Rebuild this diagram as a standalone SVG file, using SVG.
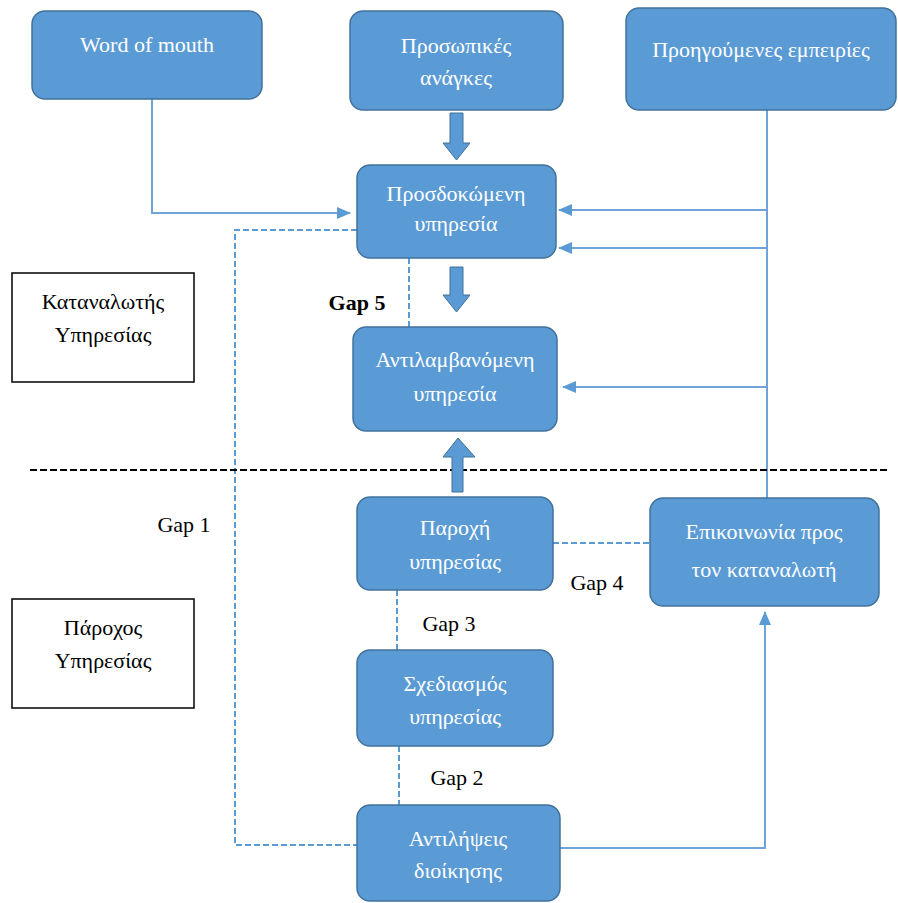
<svg xmlns="http://www.w3.org/2000/svg" width="898" height="903" viewBox="0 0 898 903">
<defs>
<style>
.box{fill:#5B9BD5;stroke:#41719C;stroke-width:1.5}
.lbl{fill:#FFFFFF;font-family:Liberation Serif, Times New Roman, serif;font-size:22px;text-anchor:middle}
.blk{fill:#000000;font-size:22px;text-anchor:middle}
.side{fill:#FFFFFF;stroke:#000000;stroke-width:1.5}
.ln{fill:none;stroke:#6FA3DA;stroke-width:2}
.dash{fill:none;stroke:#5B9BD5;stroke-width:2;stroke-dasharray:6 3}
.big{fill:#5B9BD5;stroke:#41719C;stroke-width:1}
</style>
<marker id="ah2" markerWidth="14" markerHeight="14" refX="13" refY="7" orient="auto" markerUnits="userSpaceOnUse" viewBox="0 0 14 14">
<path d="M0,1 L14,7 L0,13 z" fill="#5B9BD5"/>
</marker>
</defs>
<rect width="898" height="903" fill="#FFFFFF"/>

<g id="connectors">
<path class="ln" d="M152,99 V213 H350" marker-end="url(#ah2)"/>
<path class="ln" d="M767,110 V498"/>
<path class="ln" d="M767,210 H559" marker-end="url(#ah2)"/>
<path class="ln" d="M767,248 H559" marker-end="url(#ah2)"/>
<path class="ln" d="M767,387 H563" marker-end="url(#ah2)"/>
<path class="ln" d="M560,848 H765 V612" marker-end="url(#ah2)"/>
<path class="dash" d="M357,230 H235 V845 H357"/>
<path class="dash" d="M409,258 V327"/>
<path class="dash" d="M397,590 V650"/>
<path class="dash" d="M399,746 V805"/>
<path class="dash" d="M553,543 H650"/>
<path fill="none" stroke="#000000" stroke-width="2" stroke-dasharray="7 3" d="M30,470 H890"/>
<polygon class="big" points="450,113 463,113 463,143 470,143 456.5,160 443,143 450,143"/>
<polygon class="big" points="450,267 463,267 463,295 470,295 456.5,312 443,295 450,295"/>
<polygon class="big" points="452,492 463,492 463,457 475,457 458,438 443,457 452,457"/>
</g>

<g id="word-of-mouth">
<rect class="box" x="32" y="11" width="230" height="88" rx="13"/>
<text class="lbl" x="147" y="52">Word of mouth</text>
</g>
<g id="personal-needs">
<rect class="box" x="350" y="11" width="213" height="99" rx="13"/>
<text class="lbl" x="456" y="53">Προσωπικές</text>
<text class="lbl" x="456" y="85">ανάγκες</text>
</g>
<g id="past-experience">
<rect class="box" x="626" y="8" width="270" height="102" rx="13"/>
<text class="lbl" x="761" y="57">Προηγούμενες εμπειρίες</text>
</g>
<g id="expected-service">
<rect class="box" x="357" y="165" width="199" height="93" rx="13"/>
<text class="lbl" x="456" y="201">Προσδοκώμενη</text>
<text class="lbl" x="456" y="231">υπηρεσία</text>
</g>
<g id="perceived-service">
<rect class="box" x="353" y="327" width="204" height="104" rx="13"/>
<text class="lbl" x="455" y="367">Αντιλαμβανόμενη</text>
<text class="lbl" x="455" y="401">υπηρεσία</text>
</g>
<g id="service-delivery">
<rect class="box" x="357" y="497" width="196" height="93" rx="13"/>
<text class="lbl" x="455" y="535">Παροχή</text>
<text class="lbl" x="455" y="569">υπηρεσίας</text>
</g>
<g id="communication">
<rect class="box" x="650" y="498" width="229" height="108" rx="13"/>
<text class="lbl" x="764" y="539">Επικοινωνία προς</text>
<text class="lbl" x="764" y="577">τον καταναλωτή</text>
</g>
<g id="service-design">
<rect class="box" x="357" y="650" width="196" height="96" rx="13"/>
<text class="lbl" x="455" y="691">Σχεδιασμός</text>
<text class="lbl" x="455" y="724">υπηρεσίας</text>
</g>
<g id="management-perceptions">
<rect class="box" x="357" y="805" width="203" height="96" rx="13"/>
<text class="lbl" x="458" y="846">Αντιλήψεις</text>
<text class="lbl" x="458" y="878">διοίκησης</text>
</g>
<g id="consumer-label">
<rect class="side" x="12" y="273" width="182" height="109"/>
<text class="blk" x="103" y="309" font-family="Liberation Serif">Καταναλωτής</text>
<text class="blk" x="103" y="342" font-family="Liberation Serif">Υπηρεσίας</text>
</g>
<g id="provider-label">
<rect class="side" x="12" y="599" width="182" height="109"/>
<text class="blk" x="103" y="635" font-family="Liberation Serif">Πάροχος</text>
<text class="blk" x="103" y="668" font-family="Liberation Serif">Υπηρεσίας</text>
</g>
<g id="gap-labels">
<text class="blk" x="357" y="310" font-weight="bold" font-family="Liberation Serif">Gap 5</text>
<text class="blk" x="184" y="532" font-family="Liberation Serif">Gap 1</text>
<text class="blk" x="449" y="631" font-family="Liberation Serif">Gap 3</text>
<text class="blk" x="597" y="590" font-family="Liberation Serif">Gap 4</text>
<text class="blk" x="457" y="785" font-family="Liberation Serif">Gap 2</text>
</g>
</svg>
